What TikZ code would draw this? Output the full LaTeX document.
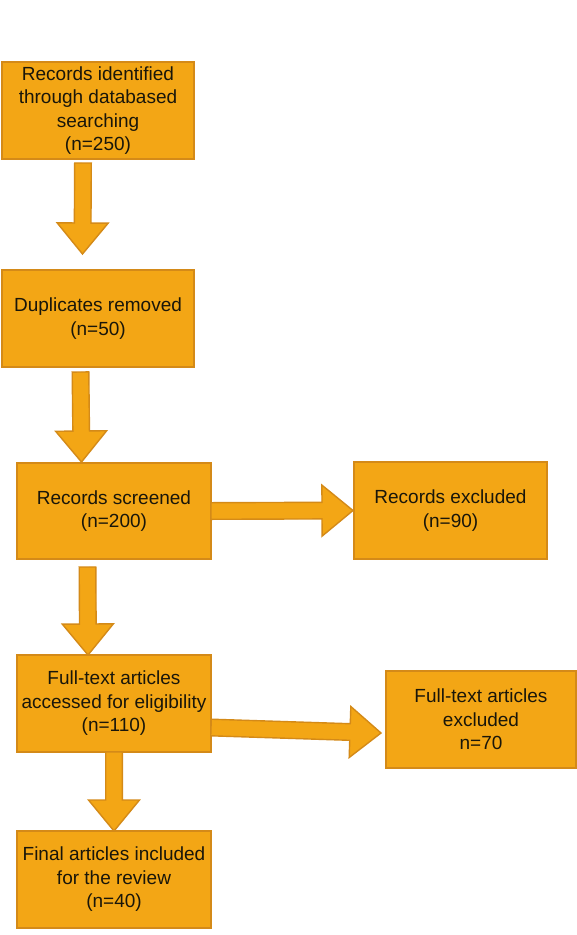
\documentclass[tikz,border=0pt]{standalone}
\usepackage{fontspec}
\setmainfont{Liberation Sans}
\usetikzlibrary{calc}
\definecolor{boxfill}{RGB}{243,166,21}
\definecolor{boxline}{RGB}{212,138,24}
\definecolor{txt}{RGB}{25,22,10}
\newcommand\arrsw{8.3pt}
\newcommand\arrhw{25.5pt}
\newcommand\arrhl{31pt}
\newcommand\blockarrow[2]{%
  \path ($(#2)!\arrhl!(#1)$) coordinate (hb);
  \filldraw[arrowshape] ($(#1)!\arrsw!90:(#2)$) -- ($(hb)!\arrsw!-90:(#1)$) -- ($(hb)!\arrhw!-90:(#1)$) -- (#2) -- ($(hb)!\arrhw!90:(#1)$) -- ($(hb)!\arrsw!90:(#1)$) -- ($(#1)!\arrsw!-90:(#2)$) -- cycle;
}
\tikzset{
  flowbox/.style={draw=boxline, fill=boxfill, line width=1.4pt, inner sep=0pt, outer sep=0pt,
    minimum height=97pt, align=center, text=txt, font=\fontsize{19}{23.5}\selectfont},
  arrowshape/.style={draw=boxline, fill=boxfill, line width=1.4pt, line join=miter},
}
\begin{document}
\begin{tikzpicture}[x=1pt,y=-1pt]
\useasboundingbox (0,0) rectangle (577,935);
\fill[white] (0,0) rectangle (577,935);
\node[flowbox, minimum width=192pt] (b1) at (98,110.5) {Records identified\\through databased\\searching\\(n=250)};
\node[flowbox, minimum width=192pt] (b2) at (98,318.5) {Duplicates removed\\(n=50)};
\node[flowbox, minimum width=194pt, minimum height=96pt] (b3) at (114,511) {Records screened\\(n=200)};
\node[flowbox, minimum width=193pt] (b4) at (450.5,510.5) {Records excluded\\(n=90)};
\node[flowbox, minimum width=194pt] (b5) at (114,703.5) {Full-text articles\\accessed for eligibility\\(n=110)};
\node[flowbox, minimum width=190pt] (b6) at (481,719.5) {Full-text articles\\excluded\\n=70};
\node[flowbox, minimum width=194pt] (b7) at (114,879.5) {Final articles included\\for the review\\(n=40)};

\coordinate (a1s) at ($(b1.south west)+(81,4)$);
\coordinate (a1e) at ($(b2.north west)+(80.5,-16)$);
\coordinate (a2s) at ($(b2.south west)+(78.5,5)$);
\coordinate (a2e) at ($(b3.north west)+(64.5,-1)$);
\coordinate (a3s) at (b3.east);
\coordinate (a3e) at ($(b4.west)+(-1,0)$);
\coordinate (a4s) at ($(b3.south west)+(70.5,8)$);
\coordinate (a4e) at ($(b5.north west)+(71,0)$);
\coordinate (a5s) at ($(b5.east)+(0,24)$);
\coordinate (a5e) at ($(b6.west)+(-5,13.5)$);
\coordinate (a6s) at (b5.south);
\coordinate (a6e) at (b7.north);

\blockarrow{a1s}{a1e}
\blockarrow{a2s}{a2e}
\blockarrow{a3s}{a3e}
\blockarrow{a4s}{a4e}
\blockarrow{a5s}{a5e}
\blockarrow{a6s}{a6e}
\end{tikzpicture}
\end{document}
